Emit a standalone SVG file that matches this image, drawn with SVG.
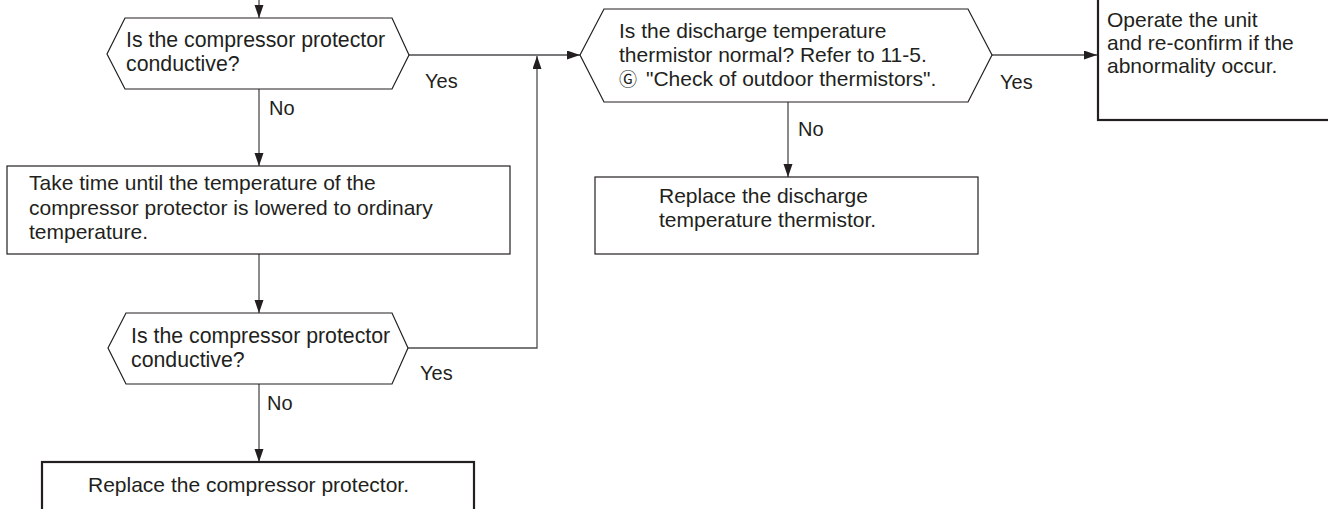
<svg xmlns="http://www.w3.org/2000/svg" width="1328" height="509" viewBox="0 0 1328 509">
<style>
.bg{fill:#ffffff}
.shape{fill:#ffffff;stroke:#231f20;stroke-width:1.2}
.thick{fill:#ffffff;stroke:#231f20;stroke-width:2.2}
.t{font-family:"Liberation Sans",Arial,"DejaVu Sans",sans-serif;font-size:21px;fill:#231f20}
.lbl{font-family:"Liberation Sans",Arial,sans-serif;font-size:20px;fill:#231f20}
.conn{fill:none;stroke:#4d4d4f;stroke-width:1.3}
</style>
<defs>
<marker id="arr" markerUnits="userSpaceOnUse" markerWidth="14" markerHeight="10" refX="13" refY="4.5" orient="auto">
<path d="M0,0 L13,4.5 L0,9 z" fill="#231f20"/>
</marker>
</defs>
<rect class="bg" x="0" y="0" width="1328" height="509"/>
<g id="connectors">
<path class="conn" d="M259,0 V18" marker-end="url(#arr)"/>
<path class="conn" d="M259,89 V166" marker-end="url(#arr)"/>
<path class="conn" d="M259,254 V313" marker-end="url(#arr)"/>
<path class="conn" d="M259,384 V462" marker-end="url(#arr)"/>
<path class="conn" d="M409,55 H580" marker-end="url(#arr)"/>
<path class="conn" d="M408,348 H537 V56" marker-end="url(#arr)"/>
<path class="conn" d="M992,55 H1097" marker-end="url(#arr)"/>
<path class="conn" d="M788,102 V177" marker-end="url(#arr)"/>
<text class="lbl" x="425" y="88">Yes</text>
<text class="lbl" x="269" y="115">No</text>
<text class="lbl" x="420" y="380">Yes</text>
<text class="lbl" x="267" y="410">No</text>
<text class="lbl" x="1000" y="89">Yes</text>
<text class="lbl" x="798" y="136">No</text>
</g>
<g id="decision1">
<polygon class="shape" points="107,54 125,18 392,18 409,55 392,89 125,89"/>
<text class="t" x="126" y="47" style="font-size:21.3px">Is the compressor protector</text>
<text class="t" x="126" y="71" style="font-size:21.3px">conductive?</text>
</g>
<g id="wait-box">
<rect class="shape" x="7" y="166" width="503" height="88"/>
<text class="t" x="29" y="190">Take time until the temperature of the</text>
<text class="t" x="29" y="215">compressor protector is lowered to ordinary</text>
<text class="t" x="29" y="239">temperature.</text>
</g>
<g id="decision3">
<polygon class="shape" points="108,348 126,313 392,313 408,348 392,384 126,384"/>
<text class="t" x="131" y="343" style="font-size:21.3px">Is the compressor protector</text>
<text class="t" x="131" y="367" style="font-size:21.3px">conductive?</text>
</g>
<g id="replace-protector">
<rect class="thick" x="42" y="462" width="432" height="60"/>
<text class="t" x="88" y="492">Replace the compressor protector.</text>
</g>
<g id="decision2">
<polygon class="shape" points="580,55 604,9 968,9 992,55 968,102 604,102"/>
<text class="t" x="619" y="38">Is the discharge temperature</text>
<text class="t" x="619" y="62">thermistor normal? Refer to 11-5.</text>
<text class="t" x="619" y="86"><tspan font-family="'DejaVu Sans','Noto Sans CJK JP',sans-serif" font-size="18">Ⓖ</tspan><tspan dx="9">"Check of outdoor thermistors".</tspan></text>
</g>
<g id="replace-thermistor">
<rect class="shape" x="595" y="177" width="383" height="77"/>
<text class="t" x="659" y="203">Replace the discharge</text>
<text class="t" x="659" y="227">temperature thermistor.</text>
</g>
<g id="operate-box">
<rect class="thick" x="1098" y="-10" width="240" height="130"/>
<text class="t" x="1107" y="27">Operate the unit</text>
<text class="t" x="1107" y="50">and re-confirm if the</text>
<text class="t" x="1107" y="73">abnormality occur.</text>
</g>
</svg>
